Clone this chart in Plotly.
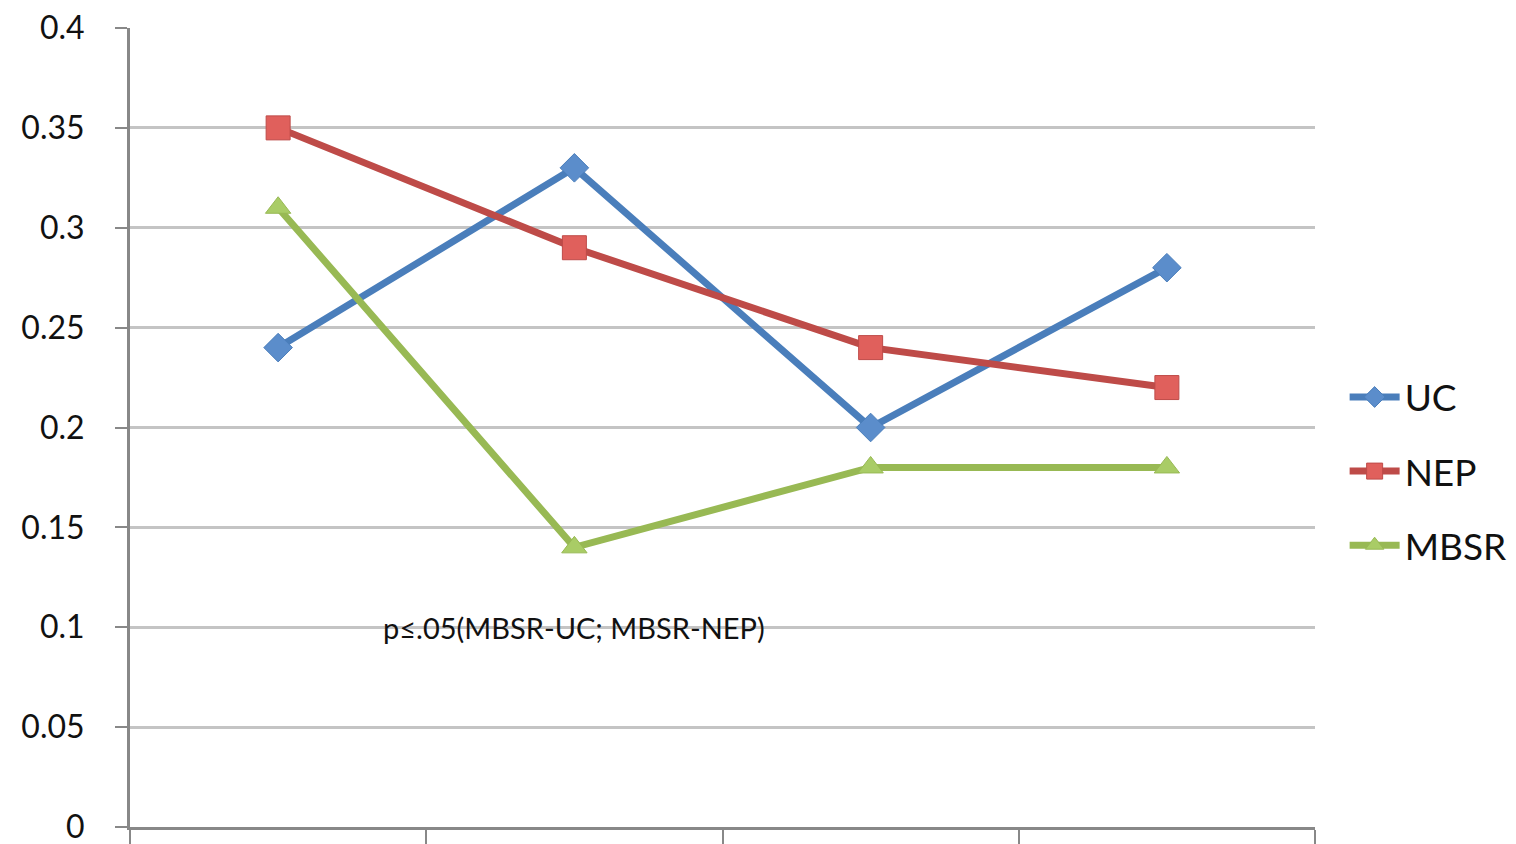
import plotly.graph_objects as go

categories = ["T1", "T2", "T3", "T4"]
uc = [0.24, 0.33, 0.20, 0.28]
nep = [0.35, 0.29, 0.24, 0.22]
mbsr = [0.31, 0.14, 0.18, 0.18]
y_ticks = [0, 0.05, 0.1, 0.15, 0.2, 0.25, 0.3, 0.35, 0.4]
y_tick_labels = ["0", "0.05", "0.1", "0.15", "0.2", "0.25", "0.3", "0.35", "0.4"]
note = "p≤.05(MBSR-UC; MBSR-NEP)"

fig = go.Figure()
series = [
    ("UC", uc, "#4A7EBB", "#5B8DCB", "diamond", 22),
    ("NEP", nep, "#BE4B48", "#E0605C", "square", 24),
    ("MBSR", mbsr, "#98B954", "#A9CC66", "triangle-up", 22),
]
for name, vals, lc, mc, sym, sz in series:
    fig.add_trace(go.Scatter(
        x=categories, y=vals, name=name, mode="lines+markers",
        legendgroup=name,
        line=dict(color=lc, width=7),
        marker=dict(symbol=sym, size=sz, color=mc, line=dict(color=lc, width=1)),
    ))

fig.add_annotation(x=categories[1], y=0.1, text=note, showarrow=False,
                   xanchor="center", yanchor="middle",
                   font=dict(family="Lato", size=29, color="#111111"))

fig.update_layout(
    width=1516, height=844,
    margin=dict(l=122, r=209, t=20, b=25),
    paper_bgcolor="white", plot_bgcolor="white",
    font=dict(family="Lato", color="#111111"),
    legend=dict(x=1.025, y=0.445, xanchor="left", yanchor="middle",
                font=dict(size=37), tracegroupgap=23, itemwidth=50,
                bgcolor="rgba(0,0,0,0)"),
    xaxis=dict(type="category", range=[-0.5, 3.5], showticklabels=False,
               tickson="boundaries", ticks="outside", ticklen=14, tickwidth=2,
               tickcolor="#888888", showgrid=False, showline=True,
               linecolor="#888888", linewidth=3, zeroline=False, automargin=False),
    yaxis=dict(range=[0, 0.4], tickvals=y_ticks, ticktext=y_tick_labels,
               ticks="outside", ticklen=12, tickwidth=2, tickcolor="#888888",
               showgrid=True, gridcolor="#C4C4C4", gridwidth=3,
               showline=True, linecolor="#888888", linewidth=3, zeroline=False,
               tickfont=dict(size=32), ticklabelstandoff=24, automargin=False,
               ticklabeloverflow="allow"),
    showlegend=True,
)

fig.write_html("out.html")
